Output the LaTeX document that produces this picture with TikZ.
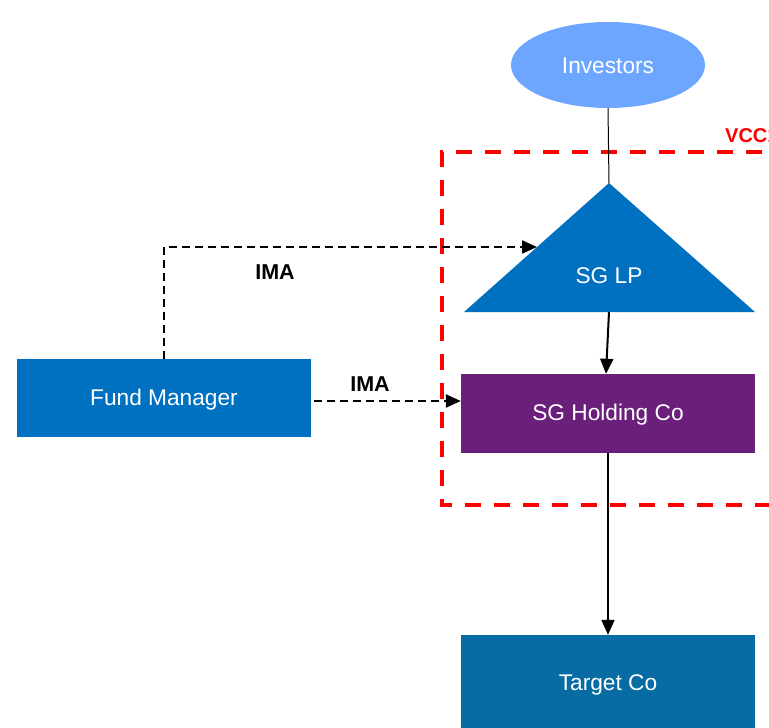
\documentclass[tikz,border=0pt]{standalone}
\usepackage{fontspec}
\setmainfont{Liberation Sans}
\usetikzlibrary{shapes.geometric,arrows.meta}
\definecolor{invblue}{HTML}{6CA6FF}
\definecolor{lpblue}{HTML}{0070C0}
\definecolor{holdpurple}{HTML}{6A1F7A}
\definecolor{tgtblue}{HTML}{066CA3}
\definecolor{vccred}{HTML}{FF0000}
\tikzset{
  boxfont/.style={font=\fontsize{22.7}{26}\selectfont},
  box/.style={rectangle, inner sep=0pt, minimum width=294pt, text=white, boxfont},
  lbl/.style={font=\bfseries\fontsize{21.5}{24}\selectfont, text=black, inner sep=0pt},
  solidarrow/.style={draw=black, line width=2pt, -{Triangle[length=15pt,width=13pt]}},
  imaarrow/.style={draw=black, line width=2.3pt, dash pattern=on 7.5pt off 5.5pt, -{Triangle[length=15pt,width=13pt]}},
  vccbox/.style={draw=vccred, line width=4.5pt, dash pattern=on 16pt off 13pt},
}
\begin{document}
\begin{tikzpicture}[x=1pt,y=-1pt]
\useasboundingbox (0,0) rectangle (769,728);
% VCC dashed boundary
\draw[vccbox] (820,152) -- (442,152) -- (442,505) -- (820,505);
\node[anchor=base west, text=vccred, font=\bfseries\fontsize{20}{24}\selectfont, inner sep=0pt] (vcc) at (725,142) {VCC1};
% Investors
\node[ellipse, fill=invblue, minimum width=194pt, minimum height=86pt, inner sep=0pt] (inv) at (608,65) {};
\node[text=white, boxfont, inner sep=0pt] (invlabel) at (608,66) {Investors};
% SG LP triangle
\coordinate (lptop) at (609,183);
\coordinate (lpleft) at (464,312);
\coordinate (lpright) at (755,312);
\coordinate (lpbase) at (609,312);
\coordinate (lpin) at (537,247);
\fill[lpblue] (lptop) -- (lpright) -- (lpleft) -- cycle;
\node[text=white, boxfont, inner sep=0pt] (lp) at (609,276) {SG LP};
\draw[black, line width=1pt] (inv.south) -- (lptop);
% Boxes
\node[box, fill=holdpurple, minimum height=79pt] (hold) at (608,413.5) {};
\node[text=white, boxfont, inner sep=0pt] (holdlabel) at (608,415) {SG Holding Co};
\node[box, fill=tgtblue, minimum height=100pt] (tgt) at (608,685) {};
\node[text=white, boxfont, inner sep=0pt] (tgtlabel) at (608,685) {Target Co};
\node[box, fill=lpblue, minimum height=78pt] (fm) at (164,398) {};
\node[text=white, boxfont, inner sep=0pt] (fmlabel) at (164,400) {Fund Manager};
% Arrows
\draw[solidarrow] (lpbase) -- ([xshift=-2pt]hold.north);
\draw[solidarrow] (hold.south) -- (tgt.north);
\draw[imaarrow] (fm.north) |- (lpin);
\draw[imaarrow] ([xshift=3pt,yshift=-3pt]fm.east) -- ([yshift=12.5pt]hold.west);
\node[lbl] (ima1) at (275,272) {IMA};
\node[lbl] (ima2) at (370,384) {IMA};
\end{tikzpicture}
\end{document}
